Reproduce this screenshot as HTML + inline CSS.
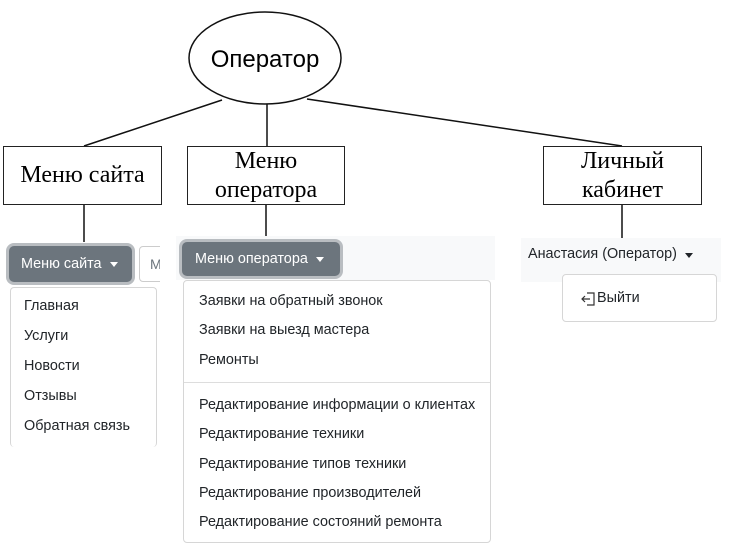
<!DOCTYPE html>
<html><head><meta charset="utf-8"><style>
body{margin:0;width:734px;height:552px;background:#fff;position:relative;overflow:hidden;font-family:"Liberation Sans",sans-serif;}
.a{position:absolute;}
.box{position:absolute;border:1.5px solid #222;background:#fff;font-family:"Liberation Serif",serif;font-size:24px;color:#000;text-align:center;line-height:29px;box-sizing:border-box;display:flex;align-items:center;justify-content:center;}
.btn{position:absolute;background:#6c757d;color:#fff;font-size:14.4px;border-radius:5px;box-shadow:0 0 0 3px #b9bdc1;box-sizing:border-box;display:flex;align-items:center;}
.caret{display:inline-block;width:0;height:0;border-left:4px solid transparent;border-right:4px solid transparent;border-top:5px solid #fff;margin-left:8px;}
.dd{position:absolute;background:#fff;border:1px solid #d6d6d6;border-radius:4px;box-sizing:border-box;}
.it{position:absolute;font-size:14.4px;color:#212529;white-space:nowrap;}
</style></head><body>
<svg class="a" style="left:0;top:0" width="734" height="552">
<ellipse cx="265" cy="58" rx="76" ry="46" fill="#fff" stroke="#111" stroke-width="1.5"/>
<line x1="222" y1="100" x2="84" y2="146" stroke="#111" stroke-width="1.5"/>
<line x1="267" y1="104" x2="267" y2="146" stroke="#111" stroke-width="1.5"/>
<line x1="307" y1="99" x2="622" y2="146" stroke="#111" stroke-width="1.5"/>
<line x1="84" y1="205" x2="84" y2="242" stroke="#111" stroke-width="1.5"/>
<line x1="266" y1="205" x2="266" y2="236" stroke="#111" stroke-width="1.5"/>
<line x1="622" y1="204" x2="622" y2="238" stroke="#111" stroke-width="1.5"/>
<text x="265" y="67" font-family="Liberation Sans, sans-serif" font-size="24" text-anchor="middle" fill="#000">Оператор</text>
</svg>
<div class="box" style="left:3px;top:146px;width:159px;height:59px;">Меню сайта</div>
<div class="box" style="left:187px;top:146px;width:158px;height:59px;">Меню<br>оператора</div>
<div class="box" style="left:543px;top:146px;width:159px;height:59px;">Личный<br>кабинет</div>

<div class="btn" style="left:9px;top:246px;width:123px;height:36px;padding-left:12px;">Меню сайта<span class="caret"></span></div>
<div class="a" style="left:139px;top:246px;width:30px;height:36px;border:1px solid #ccc;border-radius:4px;box-sizing:border-box;font-size:14px;color:#6c757d;line-height:34px;padding-left:10px;overflow:hidden;">М</div>
<div class="a" style="left:160px;top:240px;width:20px;height:50px;background:#fff"></div>
<div class="dd" style="left:10px;top:287px;width:147px;height:160px;border-bottom:none;"></div>
<div class="it" style="left:24px;top:298px;">Главная</div>
<div class="it" style="left:24px;top:328px;">Услуги</div>
<div class="it" style="left:24px;top:358px;">Новости</div>
<div class="it" style="left:24px;top:388px;">Отзывы</div>
<div class="it" style="left:24px;top:418px;">Обратная связь</div>

<div class="a" style="left:176px;top:236px;width:319px;height:44px;background:#f8f9fa"></div>
<div class="btn" style="left:182px;top:242px;width:158px;height:34px;padding-left:13px;">Меню оператора<span class="caret"></span></div>
<div class="dd" style="left:183px;top:280px;width:308px;height:263px;"></div>
<div class="it" style="left:199px;top:293px;">Заявки на обратный звонок</div>
<div class="it" style="left:199px;top:322px;">Заявки на выезд мастера</div>
<div class="it" style="left:199px;top:352px;">Ремонты</div>
<div class="a" style="left:184px;top:382px;width:306px;height:1px;background:#ddd"></div>
<div class="it" style="left:199px;top:397px;">Редактирование информации о клиентах</div>
<div class="it" style="left:199px;top:426px;">Редактирование техники</div>
<div class="it" style="left:199px;top:456px;">Редактирование типов техники</div>
<div class="it" style="left:199px;top:485px;">Редактирование производителей</div>
<div class="it" style="left:199px;top:514px;">Редактирование состояний ремонта</div>

<div class="a" style="left:521px;top:238px;width:200px;height:44px;background:#f8f9fa"></div>
<div class="it" style="left:528px;top:246px;">Анастасия (Оператор)<span class="caret" style="border-top-color:#212529"></span></div>
<div class="dd" style="left:562px;top:274px;width:155px;height:48px;"></div>
<svg class="a" style="left:580px;top:292px" width="16" height="14"><path d="M7 1 H14 V13 H7" fill="none" stroke="#333" stroke-width="1.2"/><path d="M10 7 H2 M5 4 L2 7 L5 10" fill="none" stroke="#333" stroke-width="1.2"/></svg>
<div class="it" style="left:597px;top:290px;">Выйти</div>
</body></html>
